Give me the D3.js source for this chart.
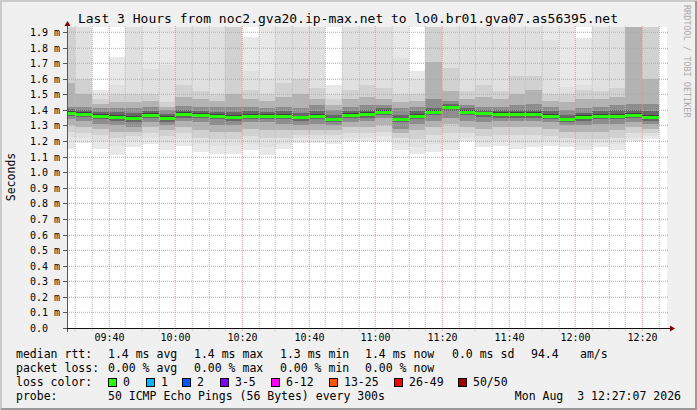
<!DOCTYPE html>
<html><head><meta charset="utf-8">
<script src="https://cdn.jsdelivr.net/npm/d3@7"></script>
<style>
html,body{margin:0;padding:0;background:#f0f0f0;overflow:hidden;}
svg{display:block;}
text{font-family:"DejaVu Sans Mono",monospace;fill:#000;white-space:pre;}
</style>
</head><body><svg id="c" width="697" height="410"></svg>
<script>
// ---------- DATA (ms) ----------
const times = ["09:30","09:35","09:40","09:45","09:50","09:55","10:00","10:05","10:10","10:15","10:20","10:25","10:30","10:35","10:40","10:45","10:50","10:55","11:00","11:05","11:10","11:15","11:20","11:25","11:30","11:35","11:40","11:45","11:50","11:55","12:00","12:05","12:10","12:15","12:20","12:25"];
const median = [1.382,1.376,1.363,1.356,1.350,1.369,1.350,1.376,1.369,1.363,1.356,1.363,1.363,1.363,1.354,1.363,1.341,1.369,1.376,1.389,1.341,1.363,1.389,1.416,1.389,1.380,1.376,1.376,1.376,1.363,1.341,1.356,1.363,1.363,1.369,1.356];
// smoke band edges: ping rank from top (hi) and bottom (lo)
const pingMax = [1.95,1.95,1.53,1.74,1.95,1.95,1.95,1.95,1.95,1.95,1.95,1.87,1.95,1.95,1.95,1.95,1.56,1.95,1.95,1.95,1.95,1.65,1.95,1.95,1.95,1.95,1.95,1.95,1.95,1.95,1.95,1.86,1.95,1.95,1.95,1.95];
const pingHi2 = [1.95,1.95,1.50,1.56,1.95,1.66,1.69,1.95,1.95,1.95,1.95,1.65,1.60,1.95,1.95,1.95,1.50,1.95,1.95,1.95,1.73,1.60,1.95,1.95,1.95,1.95,1.95,1.95,1.95,1.85,1.55,1.56,1.95,1.95,1.95,1.95];
const pingHi4 = [1.95,1.60,1.47,1.50,1.50,1.50,1.45,1.56,1.52,1.50,1.95,1.53,1.50,1.57,1.60,1.54,1.47,1.53,1.56,1.54,1.50,1.50,1.95,1.67,1.52,1.56,1.52,1.62,1.62,1.50,1.50,1.53,1.52,1.54,1.95,1.95];
const pingHi8 = [1.57,1.50,1.44,1.45,1.45,1.46,1.42,1.48,1.47,1.46,1.50,1.47,1.46,1.48,1.50,1.47,1.43,1.47,1.48,1.47,1.45,1.46,1.71,1.52,1.47,1.48,1.47,1.50,1.53,1.46,1.45,1.47,1.47,1.48,1.95,1.60];
const pingHi13 = [1.42,1.42,1.41,1.41,1.41,1.42,1.40,1.425,1.42,1.42,1.42,1.42,1.41,1.42,1.41,1.43,1.40,1.42,1.43,1.43,1.41,1.42,1.47,1.46,1.43,1.42,1.42,1.43,1.44,1.42,1.40,1.41,1.42,1.43,1.44,1.44];
const pingHi18 = [1.405,1.400,1.385,1.385,1.380,1.395,1.375,1.400,1.390,1.385,1.385,1.390,1.385,1.390,1.380,1.390,1.370,1.390,1.400,1.410,1.370,1.390,1.410,1.440,1.410,1.400,1.400,1.400,1.400,1.390,1.370,1.380,1.390,1.400,1.400,1.390];
const pingHi23 = [1.390,1.385,1.372,1.366,1.360,1.378,1.360,1.385,1.377,1.372,1.365,1.372,1.372,1.372,1.363,1.372,1.350,1.378,1.385,1.397,1.350,1.372,1.397,1.425,1.397,1.388,1.385,1.385,1.385,1.372,1.350,1.365,1.372,1.372,1.378,1.365];
const pingLo23 = [1.372,1.368,1.355,1.347,1.342,1.360,1.342,1.368,1.360,1.355,1.347,1.355,1.355,1.355,1.345,1.355,1.333,1.360,1.368,1.380,1.333,1.355,1.380,1.405,1.380,1.372,1.368,1.368,1.368,1.355,1.333,1.347,1.355,1.355,1.360,1.347];
const pingLo18 = [1.360,1.355,1.340,1.330,1.325,1.345,1.325,1.350,1.345,1.340,1.330,1.340,1.340,1.340,1.330,1.340,1.320,1.345,1.350,1.365,1.320,1.340,1.365,1.390,1.365,1.355,1.350,1.350,1.350,1.340,1.320,1.330,1.340,1.340,1.345,1.330];
const pingLo13 = [1.34,1.33,1.31,1.30,1.29,1.32,1.30,1.33,1.32,1.30,1.30,1.32,1.32,1.31,1.30,1.31,1.30,1.32,1.33,1.35,1.28,1.31,1.33,1.35,1.33,1.32,1.33,1.33,1.33,1.32,1.30,1.30,1.31,1.31,1.32,1.31];
const pingLo8 = [1.30,1.29,1.28,1.26,1.26,1.29,1.27,1.29,1.27,1.26,1.26,1.28,1.27,1.27,1.27,1.27,1.27,1.29,1.29,1.30,1.25,1.27,1.29,1.31,1.29,1.28,1.29,1.29,1.29,1.28,1.26,1.26,1.26,1.27,1.29,1.28];
const pingLo4 = [1.26,1.25,1.24,1.22,1.23,1.25,1.23,1.25,1.22,1.21,1.21,1.23,1.22,1.22,1.24,1.24,1.24,1.25,1.25,1.26,1.22,1.21,1.24,1.25,1.25,1.23,1.24,1.24,1.24,1.23,1.22,1.21,1.21,1.22,1.25,1.25];
const pingLo2 = [1.22,1.22,1.20,1.17,1.20,1.22,1.19,1.21,1.18,1.17,1.17,1.18,1.16,1.18,1.22,1.21,1.21,1.22,1.22,1.23,1.18,1.16,1.18,1.19,1.22,1.19,1.20,1.19,1.19,1.20,1.19,1.17,1.19,1.18,1.22,1.23];
const pingMin = [1.15,1.19,1.15,1.11,1.16,1.18,1.14,1.17,1.13,1.12,1.12,1.14,1.11,1.15,1.19,1.19,1.18,1.20,1.20,1.20,1.14,1.12,1.13,1.14,1.20,1.16,1.17,1.15,1.16,1.17,1.16,1.14,1.16,1.14,1.20,1.21];
const bandRanks = [1,2,4,8,13,18,23];
const yTicks = [0,0.1,0.2,0.3,0.4,0.5,0.6,0.7,0.8,0.9,1.0,1.1,1.2,1.3,1.4,1.5,1.6,1.7,1.8,1.9];
const lossLabels = ["0","1","2","3-5","6-12","13-25","26-49","50/50"];
const lossColors = ["#26ff00","#00b8ff","#0059ff","#7e00ff","#ff00ff","#ff5500","#ff0000","#a10000"];

// ---------- LAYOUT ----------
const W=697,H=410, L=67, R=667, T=27, B=328;
const svg = d3.select("#c");
const pT = d3.utcParse("%H:%M:%S"), pM = d3.utcParse("%H:%M");
const x = d3.scaleUtc().domain([pT("09:27:30"), pT("12:27:30")]).range([L,R]);
const y = d3.scaleLinear().domain([0,1.932]).range([B,T]);
const px = v => Math.round(v);

// background & frame
svg.append("rect").attr("width",W).attr("height",H).attr("fill","#f0f0f0");
svg.append("path").attr("d",`M1,${H} V1 H${W}`).attr("stroke","#cbcbcb").attr("stroke-width",2).attr("fill","none");
svg.append("path").attr("d",`M1,${H-1} H${W-1} V1`).attr("stroke","#999").attr("stroke-width",2).attr("fill","none");
svg.append("rect").attr("x",L).attr("y",T).attr("width",R-L).attr("height",B-T).attr("fill","#fff");

svg.append("clipPath").attr("id","pc").append("rect").attr("x",L).attr("y",T).attr("width",R-L).attr("height",B-T);
const plot = svg.append("g").attr("clip-path","url(#pc)");

// smoke
const his=[pingMax,pingHi2,pingHi4,pingHi8,pingHi13,pingHi18,pingHi23];
const los=[pingMin,pingLo2,pingLo4,pingLo8,pingLo13,pingLo18,pingLo23];
const cols = times.map((t,i)=>{const e=pM(t);return {i,x0:Math.max(L,px(x(d3.utcMinute.offset(e,-5)))),x1:px(x(e))};});
bandRanks.forEach((rk,j)=>{
  const c = Math.floor(190/25*(25-rk))+50;
  const col = d3.rgb(c,c,c).formatHex();
  plot.selectAll(null).data(cols).enter().append("rect")
    .attr("x",d=>d.x0).attr("width",d=>d.x1-d.x0)
    .attr("y",d=>px(y(his[j][d.i]))).attr("height",d=>px(y(los[j][d.i]))-px(y(his[j][d.i])))
    .attr("fill",col).attr("shape-rendering","crispEdges");
});

// grid: dotted, slightly soft
const grid = svg.append("g");
const minorT = d3.utcMinute.every(5).range(x.domain()[0], x.domain()[1]);
const minorPath = d3.path(), majorPath = d3.path();
minorT.forEach(t=>{
  const major = t.getUTCMinutes()%20===0;
  const xx = px(x(t))+0.25;
  const p = major?majorPath:minorPath;
  p.moveTo(xx,T-1); p.lineTo(xx,B+3);
});
yTicks.forEach(v=>{
  if(v===0) return;
  const yy=px(y(v))+0.25;
  majorPath.moveTo(L,yy); majorPath.lineTo(R+2,yy);
});
grid.append("path").attr("d",minorPath.toString()).attr("fill","none").attr("stroke","#bdbdbd").attr("stroke-width",1).attr("stroke-dasharray","1,1");
grid.append("path").attr("d",majorPath.toString()).attr("fill","none").attr("stroke","#ec9090").attr("stroke-width",1).attr("stroke-dasharray","1,1");

// median line
plot.selectAll(null).data(cols).enter().append("rect")
  .attr("x",d=>d.x0).attr("width",d=>d.x1-d.x0)
  .attr("y",d=>px(y(median[d.i]))-1).attr("height",3)
  .attr("fill","#26ff00").attr("shape-rendering","crispEdges");

// axes
const ax = svg.append("g").attr("shape-rendering","crispEdges");
ax.append("rect").attr("x",L).attr("y",T-2).attr("width",1).attr("height",B-T+6).attr("fill","#555");
ax.append("rect").attr("x",L-4).attr("y",B).attr("width",R-L+8).attr("height",1).attr("fill","#111");
svg.append("path").attr("d",`M${L-2.5},${T-1} L${L+3.5},${T-1} L${L+0.5},${T-6} Z`).attr("fill","#7f0000");
svg.append("path").attr("d",`M${R+3},${B-2.5} L${R+3},${B+3.5} L${R+8},${B+0.5} Z`).attr("fill","#7f0000");
yTicks.forEach(v=>{
  const yy=px(y(v));
  ax.append("rect").attr("x",L-4).attr("y",yy).attr("width",4).attr("height",1).attr("fill","#555");
  svg.append("text").attr("x",60).attr("y",yy+0.5).attr("dy","0.36em").attr("text-anchor","end").attr("font-size","10px")
    .text(v===0?"0.0\u00a0\u00a0":v.toFixed(1)+" m");
});
const majorT = d3.utcMinute.every(20).range(x.domain()[0], x.domain()[1]);
const fmt = d3.utcFormat("%H:%M");
majorT.forEach(t=>{
  svg.append("text").attr("x",px(x(t))+0.5).attr("y",341).attr("text-anchor","middle").attr("font-size","10px").text(fmt(t));
});

// titles
svg.append("text").attr("x",348).attr("y",23).attr("text-anchor","middle").attr("font-size","13px")
  .text("Last 3 Hours from noc2.gva20.ip-max.net to lo0.br01.gva07.as56395.net");
svg.append("text").attr("transform","translate(15,177) rotate(-90)").attr("text-anchor","middle").attr("font-size","11.5px").text("Seconds");
svg.append("text").attr("transform","translate(684,5) rotate(90)").attr("font-size","8.5px").style("fill","#aaa").text("RRDTOOL / TOBI OETIKER");

// legend
const lg = svg.append("g").attr("font-size","11.5px");
const put=(xx,yy,s)=>lg.append("text").attr("x",xx).attr("y",yy).text(s);
put(16,358,"median rtt:");
put(108,358,"1.4 ms avg"); put(194,358,"1.4 ms max"); put(280,358,"1.3 ms min"); put(365,358,"1.4 ms now"); put(452,358,"0.0 ms sd"); put(531,358,"94.4"); put(580,358,"am/s");
put(16,372,"packet loss:");
put(108,372,"0.00 % avg"); put(194,372,"0.00 % max"); put(280,372,"0.00 % min"); put(365,372,"0.00 % now");
put(16,386,"loss color:");
const boxX=[108,146,182,220,271,329,394,458];
lossLabels.forEach((lab,i)=>{
  lg.append("rect").attr("x",boxX[i]+0.5).attr("y",378.5).attr("width",8).attr("height",8).attr("fill",lossColors[i]).attr("stroke","#000").attr("shape-rendering","crispEdges");
  put(boxX[i]+15,386,lab);
});
put(16,400,"probe:");
put(108,400,"50 ICMP Echo Pings (56 Bytes) every 300s");
lg.append("text").attr("x",681).attr("y",400).attr("text-anchor","end").text("Mon Aug  3 12:27:07 2026");
</script>
</body></html>
